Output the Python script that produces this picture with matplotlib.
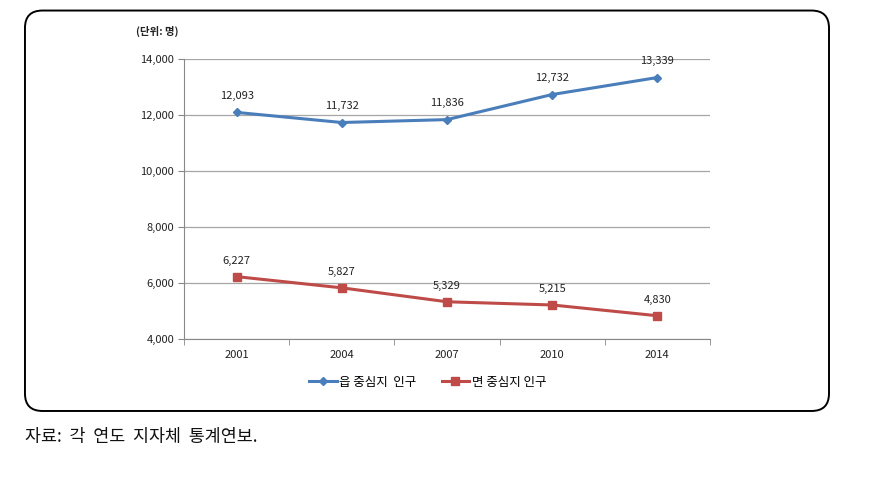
import matplotlib
matplotlib.use("Agg")
import matplotlib.pyplot as plt
from matplotlib.patches import FancyBboxPatch

plt.rcParams['font.family'] = ['Noto Sans CJK KR', 'DejaVu Sans']

# ---- DATA ----
years = ["2001", "2004", "2007", "2010", "2014"]
eup_pop = [12093, 11732, 11836, 12732, 13339]
myeon_pop = [6227, 5827, 5329, 5215, 4830]
series_names = ["읍 중심지  인구", "면 중심지 인구"]
y_ticks = [4000, 6000, 8000, 10000, 12000, 14000]

BLUE = "#4A7EBB"
RED = "#BE4B48"

fig = plt.figure(figsize=(8.73, 4.79), dpi=100)

# rounded frame around chart
box = FancyBboxPatch((0.0286, 0.142), 0.921, 0.836,
                     boxstyle="round,pad=0.0,rounding_size=0.02",
                     transform=fig.transFigure, facecolor="none",
                     edgecolor="black", linewidth=1.4, mutation_aspect=873 / 479)
fig.patches.append(box)

ax = fig.add_axes([0.2108, 0.2923, 0.6025, 0.5845])
x = list(range(len(years)))

ax.plot(x, eup_pop, color=BLUE, marker="D", markersize=4.5, linewidth=2.2, label=series_names[0])
ax.plot(x, myeon_pop, color=RED, marker="s", markersize=5.5, linewidth=2.2, label=series_names[1])

for xi, v in zip(x, eup_pop):
    ax.annotate(f"{v:,}", (xi, v), xytext=(0, 8), textcoords="offset points",
                ha="center", va="bottom", fontsize=8, color="#222222")
for xi, v in zip(x, myeon_pop):
    ax.annotate(f"{v:,}", (xi, v), xytext=(0, 8), textcoords="offset points",
                ha="center", va="bottom", fontsize=8, color="#222222")

ax.set_xlim(-0.5, len(years) - 0.5)
ax.set_ylim(4000, 14000)
ax.set_yticks(y_ticks)
ax.set_yticklabels([f"{t:,}" for t in y_ticks], fontsize=8, color="#222222")
ax.set_xticks(x)
ax.set_xticklabels(years, fontsize=8, color="#222222")
ax.tick_params(axis="x", length=0, pad=8)
ax.tick_params(axis="y", length=4, color="#888888", pad=3)
# category boundary ticks
ax.set_xticks([i - 0.5 for i in range(len(years) + 1)], minor=True)
ax.tick_params(axis="x", which="minor", length=4, color="#888888")

ax.grid(axis="y", color="#A6A6A6", linewidth=0.9)
ax.set_axisbelow(True)
for s in ["top", "right"]:
    ax.spines[s].set_visible(False)
ax.spines["left"].set_color("#888888")
ax.spines["bottom"].set_color("#888888")

fig.text(0.156, 0.935, "(단위: 명)", fontsize=7.5, fontweight="bold", color="#222222",
         ha="left", va="center")

fig.legend(loc="center", bbox_to_anchor=(0.49, 0.202), ncol=2, frameon=False,
           fontsize=9, handlelength=2.2, columnspacing=2.0, handletextpad=0.2)

fig.text(0.029, 0.088, "자료:  각  연도  지자체  통계연보.", fontsize=12.5, color="#111111",
         ha="left", va="center")

fig.savefig("out.png", dpi=100)
